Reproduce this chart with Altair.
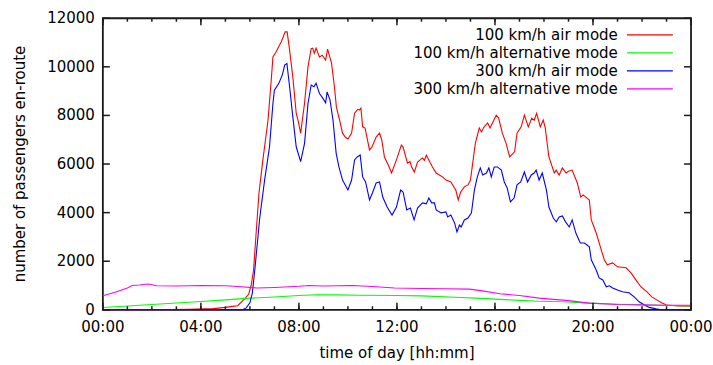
import altair as alt
import pandas as pd

SERIES = ["100 km/h air mode", "100 km/h alternative mode",
          "300 km/h air mode", "300 km/h alternative mode"]
COLORS = ["#ff0000", "#00ff00", "#0000ff", "#ff00ff"]

air100_h = [0, 2.0, 3.5, 4.5, 5.0, 5.3, 5.5, 5.75, 5.95, 6.05, 6.15, 6.25, 6.37, 6.53, 6.74, 6.87,
            6.94, 7.07, 7.28, 7.44, 7.52, 7.62, 7.75, 7.89, 7.99, 8.07, 8.23, 8.37, 8.5, 8.56, 8.63,
            8.7, 8.84, 8.95, 9.09, 9.17, 9.33, 9.45, 9.53, 9.66, 9.78, 9.9, 10.0, 10.15, 10.27, 10.4,
            10.47, 10.53, 10.6, 10.7, 10.88, 10.98, 11.15, 11.29, 11.38, 11.49, 11.65, 11.78, 11.98,
            12.18, 12.25, 12.43, 12.53, 12.6, 12.71, 12.84, 13.04, 13.12, 13.2, 13.3, 13.45, 13.6,
            13.73, 13.86, 14.0, 14.2, 14.4, 14.5, 14.6, 14.75, 14.9, 15.0, 15.2, 15.36, 15.45, 15.55,
            15.7, 15.8, 16.05, 16.15, 16.3, 16.45, 16.6, 16.8, 16.9, 17.07, 17.2, 17.36, 17.5, 17.6,
            17.7, 17.85, 17.97, 18.05, 18.2, 18.42, 18.5, 18.62, 18.75, 18.9, 19.0, 19.15, 19.36,
            19.5, 19.6, 19.85, 19.93, 20.13, 20.3, 20.46, 20.58, 20.8, 21.0, 21.35, 21.55, 21.75,
            21.95, 22.2, 22.4, 22.6, 22.8, 23.0, 23.5, 24.0]
air100_v = [0, 5, 20, 50, 100, 140, 170, 420, 640, 1000, 1640, 3100, 4800, 6170, 7810, 9450,
            10410, 10620, 11030, 11440, 11440, 10690, 9590, 8090, 7680, 7270, 8500, 10000, 10750,
            10770, 10560, 10770, 10400, 10480, 10280, 10730, 10150, 9170, 8340, 7810, 7270, 7100,
            7030, 7270, 8090, 8250, 8220, 8300, 7530, 7480, 6580, 6700, 7110, 7270, 6990, 6290,
            5950, 5630, 6170, 6780, 6700, 6040, 6100, 5880, 5670, 6080, 6250, 6150, 6370, 6170,
            5880, 5630, 5550, 5470, 5340, 5260, 4930, 4520, 4850, 5060, 5140, 5340, 6860, 7480,
            7320, 7520, 7690, 7480, 8010, 7890, 7270, 6860, 6290, 6500, 7270, 7530, 8010, 7530,
            7890, 7800, 8090, 7530, 7810, 7500, 6290, 5630, 5750, 5550, 5840, 5630, 5700, 5750,
            5220, 4640, 4730, 4520, 3700, 3160, 2590, 2060, 1850, 1930, 1770, 1730, 1520, 1230,
            950, 740, 530, 410, 290, 200, 160, 150]

alt100_h = [0, 1, 2, 3, 4, 5, 6, 7, 8, 8.7, 9.5, 10.5, 12, 13, 14.4, 15.2, 16, 17, 17.8,
            18.75, 19.85, 21, 22.3, 23.2, 24]
alt100_v = [95, 160, 220, 280, 340, 410, 480, 530, 590, 620, 615, 600, 590, 575, 520, 480,
            440, 390, 350, 330, 275, 230, 200, 180, 160]

air300_h = [0, 5.7, 5.85, 6.0, 6.1, 6.2, 6.3, 6.4, 6.6, 6.8, 6.94, 7.0, 7.18, 7.32, 7.42, 7.51,
            7.62, 7.75, 7.89, 8.07, 8.23, 8.37, 8.5, 8.61, 8.7, 8.84, 8.98, 9.09, 9.15, 9.27, 9.39,
            9.52, 9.63, 9.78, 10.0, 10.15, 10.27, 10.38, 10.5, 10.6, 10.72, 10.88, 11.0, 11.15,
            11.29, 11.42, 11.6, 11.8, 11.98, 12.15, 12.25, 12.4, 12.55, 12.7, 12.84, 13.04, 13.2,
            13.3, 13.42, 13.53, 13.6, 13.8, 14.0, 14.07, 14.2, 14.35, 14.45, 14.55, 14.62, 14.75,
            14.9, 15.04, 15.16, 15.28, 15.4, 15.5, 15.65, 15.75, 15.85, 15.97, 16.1, 16.26, 16.38,
            16.5, 16.63, 16.78, 16.9, 17.05, 17.2, 17.33, 17.48, 17.6, 17.68, 17.8, 17.93, 18.1,
            18.2, 18.38, 18.5, 18.62, 18.75, 18.88, 19.03, 19.15, 19.3, 19.48, 19.65, 19.85,
            19.93, 20.13, 20.25, 20.4, 20.54, 20.67, 20.8, 21.0, 21.2, 21.47, 21.68, 21.88, 22.1,
            22.3, 22.57, 22.8, 24]
air300_v = [0, 0, 80, 290, 700, 1640, 2700, 3770, 5340, 6710, 8490, 9040, 9320, 9660, 10070,
            10140, 9180, 7950, 6710, 6100, 6850, 8490, 9250, 9180, 9320, 8900, 8700, 8520, 8970,
            8630, 7810, 6440, 5890, 5340, 4930, 5340, 6170, 6290, 6370, 5470, 5260, 4520, 4810,
            5220, 5260, 4640, 4230, 3900, 4230, 4930, 4850, 4110, 4190, 3700, 4190, 4400, 4360,
            4600, 4400, 4400, 4110, 3990, 4030, 3820, 3900, 3580, 3210, 3490, 3410, 3700, 3780,
            3990, 4930, 5470, 5840, 5550, 5630, 5840, 5470, 5880, 5880, 5750, 5260, 5010, 4440,
            4600, 5140, 5260, 5670, 5260, 5550, 5630, 5750, 5340, 5630, 4930, 4230, 3780, 3620,
            3820, 3860, 3620, 3410, 3700, 3160, 2750, 2750, 2590, 2060, 1640, 1310, 1230, 950,
            990, 900, 820, 740, 700, 530, 330, 200, 100, 40, 0, 0]

alt300_h = [0, 0.5, 1.0, 1.2, 1.5, 1.85, 2.2, 3.0, 4.0, 5.0, 5.5, 6.3, 7.0, 8.0, 8.4, 9.0,
            10.2, 11.0, 11.9, 13.0, 14.0, 14.95, 15.5, 16.2, 17.0, 17.8, 19.0, 19.85, 21.0,
            21.9, 23.0, 24.0]
alt300_v = [575, 720, 900, 1000, 1020, 1060, 990, 980, 1000, 990, 960, 900, 920, 970, 1000,
            980, 1000, 960, 895, 880, 870, 850, 780, 660, 590, 480, 380, 275, 220, 205, 190, 185]

X_MAJOR = [0, 4, 8, 12, 16, 20, 24]
X_TICK_LABELS = ["00:00", "04:00", "08:00", "12:00", "16:00", "20:00", "00:00"]
X_MINOR = list(range(25))
Y_TICKS = [0, 2000, 4000, 6000, 8000, 10000, 12000]
Y_TICK_LABELS = ["0", "2000", "4000", "6000", "8000", "10000", "12000"]
X_TITLE = "time of day [hh:mm]"
Y_TITLE = "number of passengers en-route"

rows = []
for name, hs, vs in [(SERIES[0], air100_h, air100_v), (SERIES[1], alt100_h, alt100_v),
                     (SERIES[2], air300_h, air300_v), (SERIES[3], alt300_h, alt300_v)]:
    for h, v in zip(hs, vs):
        rows.append({"hour": h, "passengers": v, "series": name})
df = pd.DataFrame(rows)

W, H = 589, 292
LEFT, TOP = 103, 18
FONT = "DejaVu Sans Condensed, DejaVu Sans"
FS = 16.7
FRAME = "#1a1a1a"
MAJ, MIN = 7, 3.5

x_scale = alt.Scale(domain=[0, 24], nice=False, zero=False)
y_scale = alt.Scale(domain=[0, 12000], nice=False)

lines = alt.Chart(df).mark_line(strokeWidth=1.1).encode(
    x=alt.X("hour:Q", scale=x_scale, axis=None),
    y=alt.Y("passengers:Q", scale=y_scale, axis=None),
    color=alt.Color("series:N", scale=alt.Scale(domain=SERIES, range=COLORS),
                    legend=alt.Legend(title=None, orient="none", legendX=539.3,
                                      legendY=8.15,
                                      symbolType="M-3,0H3", symbolSize=235,
                                      symbolStrokeWidth=1.2, labelAlign="right",
                                      labelOffset={"expr": "-40.6"}, labelFontSize=FS,
                                      labelFont=FONT, labelLimit=400,
                                      rowPadding=0, padding=0,
                                      direction="vertical", labelColor="#000000")),
)


def xticks(values, y0, y1):
    return alt.Chart(pd.DataFrame({"hour": values})).mark_rule(
        stroke=FRAME, strokeWidth=1.5).encode(
        x=alt.X("hour:Q", scale=x_scale, axis=None),
        y=alt.value(y0), y2=alt.value(y1))


def yticks(values, x0, x1):
    return alt.Chart(pd.DataFrame({"passengers": values})).mark_rule(
        stroke=FRAME, strokeWidth=1.5).encode(
        y=alt.Y("passengers:Q", scale=y_scale, axis=None),
        x=alt.value(x0), x2=alt.value(x1))


x_labels = alt.Chart(pd.DataFrame({"hour": X_MAJOR, "label": X_TICK_LABELS})).mark_text(
    font=FONT, fontSize=FS, color="#000000", align="center", baseline="middle").encode(
    x=alt.X("hour:Q", scale=x_scale, axis=None),
    y=alt.value(H + 17), text="label:N")

y_labels = alt.Chart(pd.DataFrame({"passengers": Y_TICKS, "label": Y_TICK_LABELS})).mark_text(
    font=FONT, fontSize=FS, color="#000000", align="right", baseline="middle").encode(
    y=alt.Y("passengers:Q", scale=y_scale, axis=None),
    x=alt.value(-8), text="label:N")

x_title = alt.Chart(pd.DataFrame({"t": [X_TITLE]})).mark_text(
    font=FONT, fontSize=FS, color="#000000", align="center", baseline="middle").encode(
    x=alt.value(W / 2), y=alt.value(H + 43), text="t:N")

y_title = alt.Chart(pd.DataFrame({"t": [Y_TITLE]})).mark_text(
    font=FONT, fontSize=FS, color="#000000", align="center", baseline="middle",
    angle=270).encode(
    x=alt.value(-83), y=alt.value(H / 2), text="t:N")

# invisible anchor that fixes the top-left corner of the chart's bounds
anchor = alt.Chart(pd.DataFrame({"a": [0]})).mark_rule(
    stroke="#ffffff", strokeWidth=0.01, opacity=0).encode(
    x=alt.value(-LEFT), x2=alt.value(-LEFT), y=alt.value(-TOP), y2=alt.value(-TOP + 2))

chart = alt.layer(
    anchor,
    lines,
    xticks(X_MAJOR, H, H - MAJ),
    xticks(X_MINOR, H, H - MIN),
    xticks(X_MAJOR, 0, MAJ),
    xticks(X_MINOR, 0, MIN),
    yticks(Y_TICKS, 0, MAJ),
    yticks(Y_TICKS, W, W - MAJ),
    x_labels,
    y_labels,
    x_title,
    y_title,
).properties(
    width=W, height=H,
    padding={"left": 0, "top": 0, "right": 0, "bottom": 0},
).configure_view(
    stroke=FRAME, strokeWidth=1.8
)

chart.save("out.html", embed_options={"renderer": "svg", "actions": False})
